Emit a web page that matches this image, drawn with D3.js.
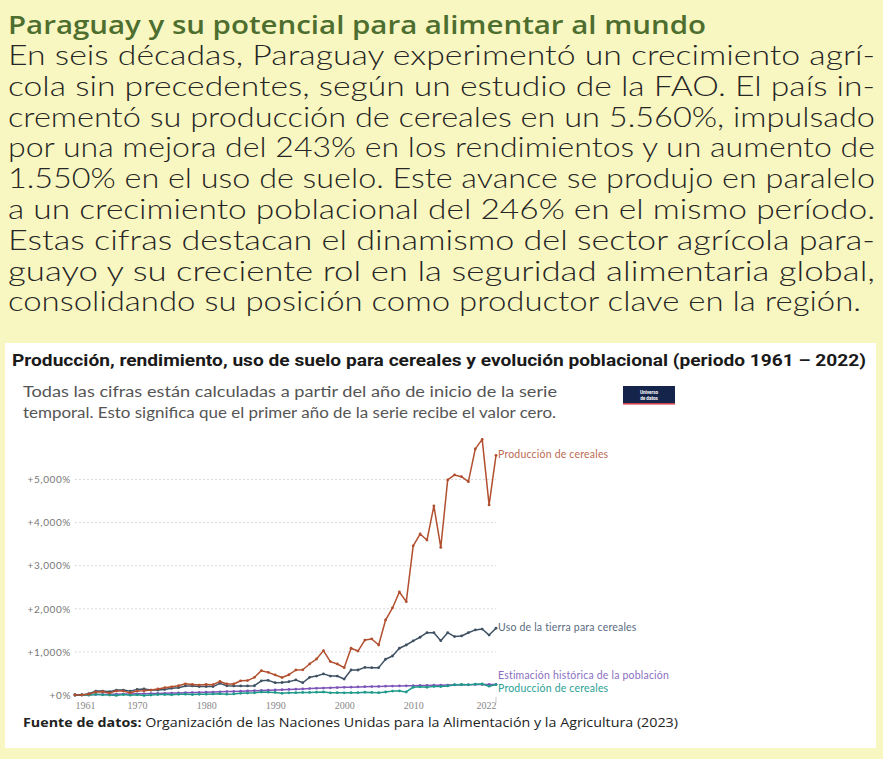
<!DOCTYPE html>
<html>
<head>
<meta charset="utf-8">
<script src="https://cdn.jsdelivr.net/npm/d3@7"></script>
<style>
  body { margin: 0; background: #f9f7c1; }
  svg { display: block; }
</style>
</head>
<body>
<div id="chart"></div>
<script>
// Paraguay cereales – variación % desde 1961

const years = d3.range(1961, 2023);

const produccion = [
  0, 5, 20, 70, 75, 45, 95, 90, 50, 95,
  100, 115, 140, 170, 190, 215, 260, 245, 230, 245,
  240, 315, 255, 255, 330, 335, 410, 565, 525, 465,
  405, 470, 580, 585, 720, 835, 1030, 775, 720, 635,
  1085, 1020, 1275, 1300, 1160, 1740, 2020, 2390, 2165, 3460,
  3735, 3595, 4385, 3425, 4990, 5105, 5065, 4950, 5710, 5930,
  4410, 5560
];

const usoTierra = [
  0, 0, 30, 90, 90, 75, 115, 115, 90, 130,
  140, 115, 115, 130, 155, 170, 210, 210, 195, 195,
  195, 270, 215, 210, 210, 210, 215, 330, 340, 285,
  290, 310, 350, 285, 410, 440, 490, 440, 440, 370,
  580, 580, 640, 635, 635, 830, 905, 1085, 1160, 1255,
  1340, 1445, 1445, 1260, 1445, 1355, 1370, 1445, 1510, 1530,
  1390, 1550
];

const poblacion = [
  0, 3, 6, 9, 12, 15, 18, 21, 24, 27,
  30, 33, 36, 40, 44, 48, 52, 56, 60, 64,
  69, 74, 79, 84, 89, 95, 100, 106, 112, 118,
  124, 130, 136, 142, 148, 154, 160, 166, 172, 177,
  182, 187, 192, 196, 200, 204, 208, 211, 214, 217,
  220, 223, 226, 229, 231, 234, 236, 239, 241, 243,
  245, 246
];

const rendimiento = [
  0, 5, -5, 15, 5, 0, -10, 10, -5, 5,
  -10, 0, 10, 10, 5, 15, 20, 10, 15, 20,
  25, 30, 20, 25, 40, 45, 50, 70, 65, 60,
  40, 50, 55, 60, 60, 65, 70, 50, 55, 50,
  55, 55, 65, 60, 55, 70, 90, 95, 70, 180,
  190, 180, 200, 195, 210, 240, 245, 235, 250, 255,
  205, 243
];

const yTicks = [0, 1000, 2000, 3000, 4000, 5000];
const xTicks = [1961, 1970, 1980, 1990, 2000, 2010, 2022];

const bodyLines = [
  'En seis décadas, Paraguay experimentó un crecimiento agrí-',
  'cola sin precedentes, según un estudio de la FAO. El país in-',
  'crementó su producción de cereales en un 5.560%, impulsado',
  'por una mejora del 243% en los rendimientos y un aumento de',
  '1.550% en el uso de suelo. Este avance se produjo en paralelo',
  'a un crecimiento poblacional del 246% en el mismo período.',
  'Estas cifras destacan el dinamismo del sector agrícola para-',
  'guayo y su creciente rol en la seguridad alimentaria global,',
  'consolidando su posición como productor clave en la región.'
];

const series = [
  { name: 'Estimación histórica de la población', values: poblacion, color: '#7d55b8', label: '#8a6fc0', dy: -9 },
  { name: 'Producción de cereales', values: rendimiento, color: '#1f9a8a', label: '#2aa093', dy: 4 },
  { name: 'Uso de la tierra para cereales', values: usoTierra, color: '#3f5263', label: '#5a6b80', dy: -1 },
  { name: 'Producción de cereales', values: produccion, color: '#b24f2f', label: '#bb6a52', dy: -1 }
];

const W = 883, H = 759;
const svg = d3.select('#chart').append('svg')
  .attr('width', W).attr('height', H);

svg.append('rect').attr('width', W).attr('height', H).attr('fill', '#f9f7c1');

// Header text
svg.append('text')
  .attr('x', 8).attr('y', 34)
  .attr('font-family', 'Open Sans').attr('font-weight', 600)
  .attr('font-size', 25.5).attr('fill', '#4d6e2e')
  .attr('textLength', 698).attr('lengthAdjust', 'spacingAndGlyphs')
  .text('Paraguay y su potencial para alimentar al mundo');

svg.append('g').selectAll('text')
  .data(bodyLines)
  .enter().append('text')
  .attr('x', 8)
  .attr('y', (d, i) => 65 + i * 30.8)
  .attr('font-family', 'Lato')
  .attr('font-weight', 300)
  .attr('font-size', 27)
  .attr('fill', '#262626')
  .attr('textLength', (d, i) => i === bodyLines.length - 1 ? 853 : 867)
  .attr('lengthAdjust', 'spacingAndGlyphs')
  .text(d => d);

// White chart card
svg.append('rect')
  .attr('x', 5).attr('y', 343).attr('width', 871).attr('height', 405)
  .attr('fill', '#fff');

svg.append('text')
  .attr('x', 12).attr('y', 366)
  .attr('font-family', 'Roboto').attr('font-weight', 700)
  .attr('font-size', 17).attr('fill', '#1a1a1a')
  .attr('textLength', 854).attr('lengthAdjust', 'spacingAndGlyphs')
  .text('Producción, rendimiento, uso de suelo para cereales y evolución poblacional (periodo 1961 – 2022)');

const subtitle = [
  'Todas las cifras están calculadas a partir del año de inicio de la serie',
  'temporal. Esto significa que el primer año de la serie recibe el valor cero.'
];
svg.append('g').selectAll('text')
  .data(subtitle)
  .enter().append('text')
  .attr('x', 23)
  .attr('y', (d, i) => 397 + i * 21)
  .attr('font-family', 'Lato')
  .attr('font-size', 14.5)
  .attr('fill', '#555')
  .attr('textLength', (d, i) => i === 0 ? 534 : 533)
  .attr('lengthAdjust', 'spacingAndGlyphs')
  .text(d => d);

// Small logo
const logo = svg.append('g').attr('transform', 'translate(623,386)');
logo.append('rect').attr('width', 52).attr('height', 18).attr('fill', '#15244a');
logo.append('rect').attr('y', 17).attr('width', 52).attr('height', 1.6).attr('fill', '#d2434b');
logo.append('text').attr('x', 26).attr('y', 7.5).attr('text-anchor', 'middle')
  .attr('font-family', 'Roboto').attr('font-size', 4.6).attr('font-weight', 700)
  .attr('fill', '#fff').text('Universo');
logo.append('text').attr('x', 26).attr('y', 13.5).attr('text-anchor', 'middle')
  .attr('font-family', 'Roboto').attr('font-size', 4.6).attr('font-weight', 700)
  .attr('fill', '#fff').text('de datos');

// Scales
const x = d3.scaleLinear().domain([1961, 2022]).range([75, 496]);
const y = d3.scaleLinear().domain([0, 5000]).range([695, 479.5]);

// Gridlines
svg.append('g').selectAll('line')
  .data(yTicks.filter(d => d > 0))
  .enter().append('line')
  .attr('x1', 75).attr('x2', 496)
  .attr('y1', d => y(d)).attr('y2', d => y(d))
  .attr('stroke', '#cfcfcf').attr('stroke-width', 0.8)
  .attr('stroke-dasharray', '2,2');

// Y axis
const yAxis = svg.append('g')
  .attr('transform', 'translate(72,0)')
  .call(d3.axisLeft(y).tickValues(yTicks).tickSize(0).tickPadding(1)
    .tickFormat(d => '+' + d3.format(',')(d) + '%'));
yAxis.select('.domain').remove();
yAxis.selectAll('text')
  .attr('font-family', 'Lato').attr('font-size', 10).attr('fill', '#777')
  .attr('letter-spacing', 0.6);

// X axis
const xAxis = svg.append('g')
  .attr('transform', 'translate(0,699)')
  .call(d3.axisBottom(x).tickValues(xTicks).tickSize(0).tickPadding(3)
    .tickFormat(d3.format('d')));
xAxis.select('.domain').remove();
xAxis.selectAll('text')
  .attr('font-family', 'Liberation Serif').attr('font-size', 10).attr('fill', '#888')
  .attr('text-anchor', d => d === 1961 ? 'start' : d === 2022 ? 'end' : 'middle');
svg.append('g').selectAll('line')
  .data([2022])
  .enter().append('line')
  .attr('x1', d => x(d)).attr('x2', d => x(d))
  .attr('y1', 697).attr('y2', 703)
  .attr('stroke', '#bbb').attr('stroke-width', 0.8);

// Lines
const line = d3.line()
  .x((d, i) => x(years[i]))
  .y(d => y(d));

const g = svg.append('g');
series.forEach(s => {
  g.append('path')
    .datum(s.values)
    .attr('d', line)
    .attr('fill', 'none')
    .attr('stroke', s.color)
    .attr('stroke-width', 1.5)
    .attr('stroke-linejoin', 'round');

  g.append('g').selectAll('circle')
    .data(s.values)
    .enter().append('circle')
    .attr('cx', (d, i) => x(years[i]))
    .attr('cy', d => y(d))
    .attr('r', 1.4)
    .attr('fill', s.color);

  g.append('text')
    .attr('x', x(2022) + 2)
    .attr('y', y(s.values[s.values.length - 1]) + s.dy)
    .attr('dy', '0.35em')
    .attr('font-family', 'Lato')
    .attr('font-size', 10.5)
    .attr('fill', s.label)
    .attr('letter-spacing', 0.2)
    .text(s.name);
});

// Source
const src = svg.append('text')
  .attr('x', 23).attr('y', 727)
  .attr('font-family', 'Open Sans').attr('font-size', 13)
  .attr('fill', '#222')
  .attr('textLength', 655).attr('lengthAdjust', 'spacingAndGlyphs');
src.append('tspan').attr('font-weight', 700).text('Fuente de datos:');
src.append('tspan').text(' Organización de las Naciones Unidas para la Alimentación y la Agricultura (2023)');
</script>
</body>
</html>
